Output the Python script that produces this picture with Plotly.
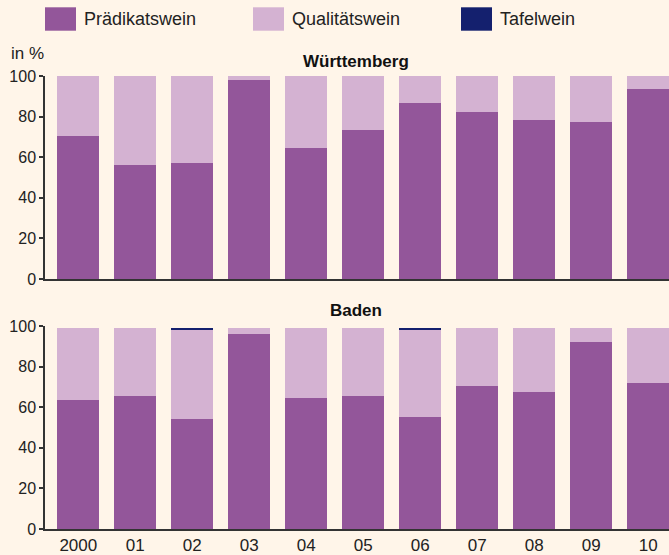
import plotly.graph_objects as go

years = ["2000", "01", "02", "03", "04", "05", "06", "07", "08", "09", "10"]
series_names = ["Prädikatswein", "Qualitätswein", "Tafelwein"]
colors = ["#93569A", "#D4B2D2", "#14206E"]

wue_praedikat = [70.5, 56, 57, 98, 64.5, 73.5, 86.5, 82.5, 78.5, 77.5, 93.5]
wue_qualitaet = [29.5, 44, 43, 2, 35.5, 26.5, 13.5, 17.5, 21.5, 22.5, 6.5]
wue_tafel = [0, 0, 0, 0, 0, 0, 0, 0, 0, 0, 0]

bad_praedikat = [63.5, 65.5, 54, 96, 64.5, 65.5, 55, 70.5, 67.5, 92, 72]
bad_qualitaet = [35.5, 33.5, 44, 3, 34.5, 33.5, 43, 28.5, 31.5, 7, 27]
bad_tafel = [0, 0, 1, 0, 0, 0, 1, 0, 0, 0, 0]

y_ticks = [0, 20, 40, 60, 80, 100]

xs = list(range(len(years)))
W, H = 669, 555
ML, MR, MT, MB = 45, 0, 76, 26
BG = "#FFF5E9"
FONT = "Liberation Sans, Arial, sans-serif"
AX = "#333333"

fig = go.Figure()
for vals, name, col in zip([wue_praedikat, wue_qualitaet, wue_tafel], series_names, colors):
    fig.add_trace(go.Bar(x=xs, y=vals, name=name, marker=dict(color=col, line=dict(width=0)),
                         width=0.737, xaxis="x", yaxis="y", showlegend=False))
for vals, name, col in zip([bad_praedikat, bad_qualitaet, bad_tafel], series_names, colors):
    fig.add_trace(go.Bar(x=xs, y=vals, name=name, marker=dict(color=col, line=dict(width=0)),
                         width=0.737, xaxis="x2", yaxis="y2", showlegend=False))

plot_w = W - ML - MR
plot_h = H - MT - MB
top_lo = (H - MB - 279.1) / plot_h
bot_hi = (H - MB - 326.1) / plot_h

xr = [-0.584, 10.363]
xcommon = dict(range=xr, showline=True, linecolor=AX, linewidth=1.5, showgrid=False,
               zeroline=False, tickvals=xs, ticktext=years,
               tickfont=dict(family=FONT, size=17, color="#222"))
ycommon = dict(range=[0, 100], tickvals=y_ticks, showline=True, linecolor=AX, linewidth=1.5,
               ticks="outside", ticklen=4, tickwidth=1.5, tickcolor=AX, showgrid=False,
               zeroline=False, tickfont=dict(family=FONT, size=16, color="#222"))

fig.update_layout(
    width=W, height=H, barmode="stack",
    paper_bgcolor=BG, plot_bgcolor=BG,
    margin=dict(l=ML, r=MR, t=MT, b=MB, autoexpand=False),
    showlegend=False,
    xaxis=dict(**xcommon, anchor="y", showticklabels=False, ticks=""),
    yaxis=dict(**ycommon, domain=[top_lo, 1], anchor="x"),
    xaxis2=dict(**xcommon, anchor="y2", ticks=""),
    yaxis2=dict(**ycommon, domain=[0, bot_hi], anchor="x2"),
    font=dict(family=FONT, color="#222"),
)

def px_x(p):
    return (p - ML) / plot_w

def px_y(p):
    return (H - MB - p) / plot_h

# manual legend
leg_x = [45, 253, 461]
shapes = []
annotations = []
for lx, name, col in zip(leg_x, series_names, colors):
    shapes.append(dict(type="rect", xref="paper", yref="paper",
                       x0=px_x(lx), x1=px_x(lx + 31), y0=px_y(30.7), y1=px_y(7.3),
                       fillcolor=col, line=dict(width=0)))
    annotations.append(dict(text=name, xref="paper", yref="paper", x=px_x(lx + 37), y=px_y(19.5),
                            xanchor="left", yanchor="middle", showarrow=False,
                            font=dict(family=FONT, size=18, color="#222")))

annotations.append(dict(text="in %", xref="paper", yref="paper", x=px_x(9), y=px_y(54),
                        xanchor="left", yanchor="middle", showarrow=False,
                        font=dict(family=FONT, size=17, color="#222")))
annotations.append(dict(text="<b>Württemberg</b>", xref="paper", yref="paper", x=px_x(356), y=px_y(61),
                        xanchor="center", yanchor="middle", showarrow=False,
                        font=dict(family=FONT, size=17, color="#111")))
annotations.append(dict(text="<b>Baden</b>", xref="paper", yref="paper", x=px_x(356), y=px_y(310),
                        xanchor="center", yanchor="middle", showarrow=False,
                        font=dict(family=FONT, size=17, color="#111")))

fig.update_layout(shapes=shapes, annotations=annotations)
fig.write_html("out.html", config={"displayModeBar": False},
               post_script="document.body.style.margin='0';document.body.style.padding='0';")
